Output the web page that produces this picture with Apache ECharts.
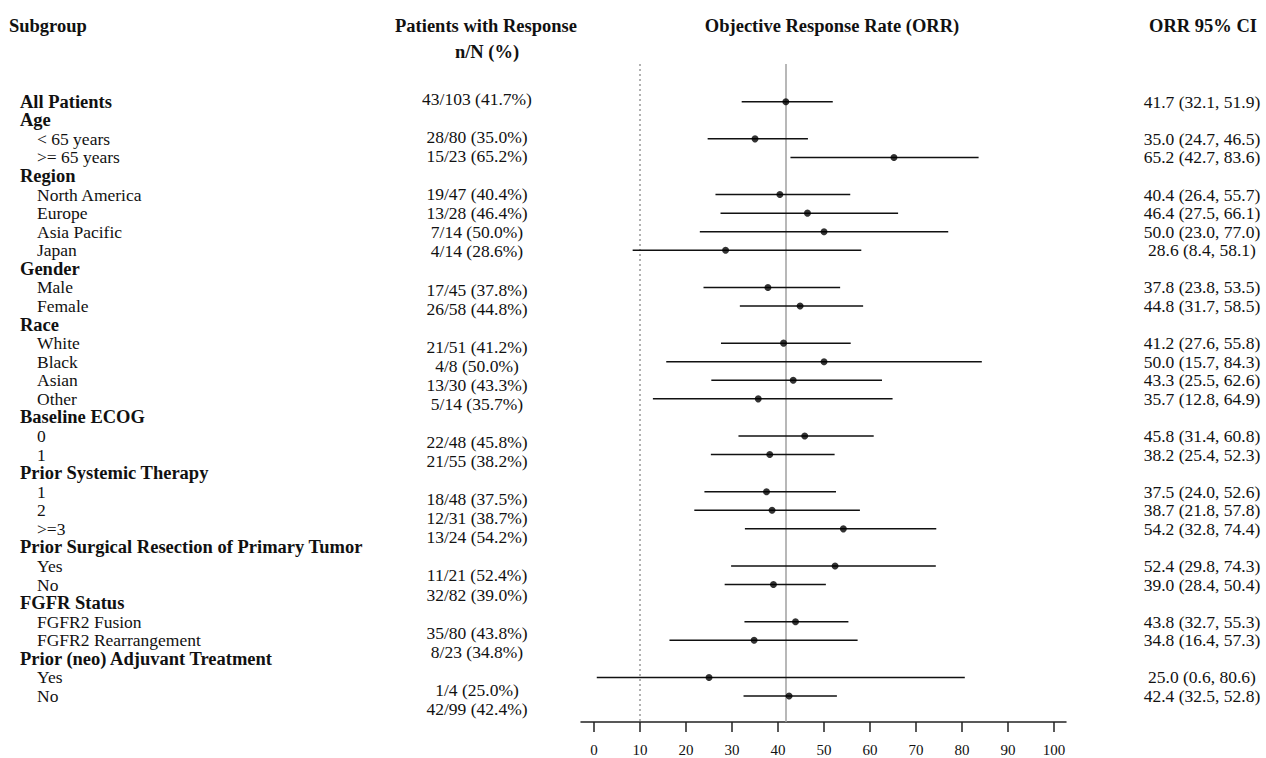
<!DOCTYPE html>
<html>
<head>
<meta charset="utf-8">
<script src="https://cdn.jsdelivr.net/npm/echarts@6/dist/echarts.min.js"></script>
<style>
html,body{margin:0;padding:0;background:#fff;}
#chart{width:1266px;height:758px;}
</style>
</head>
<body>
<div id="chart"></div>
<script>
// ---- data ----
const rows = ['All Patients','Age','< 65 years','>= 65 years','Region','North America','Europe','Asia Pacific','Japan',
  'Gender','Male','Female','Race','White','Black','Asian','Other','Baseline ECOG','0','1',
  'Prior Systemic Therapy','1','2','>=3','Prior Surgical Resection of Primary Tumor','Yes','No',
  'FGFR Status','FGFR2 Fusion','FGFR2 Rearrangement','Prior (neo) Adjuvant Treatment','Yes','No'];
const rowLevel = [0,0,1,1,0,1,1,1,1,0,1,1,0,1,1,1,1,0,1,1,0,1,1,1,0,1,1,0,1,1,0,1,1];
const responders = [43,null,28,15,null,19,13,7,4,null,17,26,null,21,4,13,5,null,22,21,null,18,12,13,null,11,32,null,35,8,null,1,42];
const totals = [103,null,80,23,null,47,28,14,14,null,45,58,null,51,8,30,14,null,48,55,null,48,31,24,null,21,82,null,80,23,null,4,99];
const orr = [41.7,null,35.0,65.2,null,40.4,46.4,50.0,28.6,null,37.8,44.8,null,41.2,50.0,43.3,35.7,null,45.8,38.2,null,37.5,38.7,54.2,null,52.4,39.0,null,43.8,34.8,null,25.0,42.4];
const ciLow = [32.1,null,24.7,42.7,null,26.4,27.5,23.0,8.4,null,23.8,31.7,null,27.6,15.7,25.5,12.8,null,31.4,25.4,null,24.0,21.8,32.8,null,29.8,28.4,null,32.7,16.4,null,0.6,32.5];
const ciHigh = [51.9,null,46.5,83.6,null,55.7,66.1,77.0,58.1,null,53.5,58.5,null,55.8,84.3,62.6,64.9,null,60.8,52.3,null,52.6,57.8,74.4,null,74.3,50.4,null,55.3,57.3,null,80.6,52.8];
const xTicks = [0,10,20,30,40,50,60,70,80,90,100];
const thresholdRate = 10;
const headers = ['Subgroup','Patients with Response','n/N (%)','Objective Response Rate (ORR)','ORR 95% CI'];

// ---- derived ----
const FONT = "'Liberation Serif','Times New Roman',serif";
const allRows = rows.map((_, i) => i);
const dataRows = allRows.filter(i => orr[i] != null);
const ciData = dataRows.map(i => [ciLow[i], ciHigh[i], i]);
const pointData = dataRows.map(i => [orr[i], i]);
const nText = i => responders[i] + '/' + totals[i] + ' (' + orr[i].toFixed(1) + '%)';
const ciText = i => orr[i].toFixed(1) + ' (' + ciLow[i].toFixed(1) + ', ' + ciHigh[i].toFixed(1) + ')';
// an empty guard label above the first row keeps ECharts' min-label logic from hiding real rows
const leftLabelValues = [-2].concat(allRows);

const hidden = {axisLine:{show:false, onZero:false}, axisTick:{show:false}, splitLine:{show:false}};
const HB = 'bold 18.5px ' + FONT;

const chart = echarts.init(document.getElementById('chart'), null, {renderer:'svg'});
chart.setOption({
  backgroundColor:'#fff',
  animation:false,
  grid:{left:581, right:200, top:64, bottom:36},
  graphic:[
    {type:'text', x:9, y:26, style:{text:headers[0], font:HB, fill:'#111', align:'left', verticalAlign:'middle'}},
    {type:'text', x:486, y:26, style:{text:headers[1], font:HB, fill:'#111', align:'center', verticalAlign:'middle'}},
    {type:'text', x:487, y:52, style:{text:headers[2], font:HB, fill:'#111', align:'center', verticalAlign:'middle'}},
    {type:'text', x:832, y:26, style:{text:headers[3], font:HB, fill:'#111', align:'center', verticalAlign:'middle'}},
    {type:'text', x:1203, y:26, style:{text:headers[4], font:HB, fill:'#111', align:'center', verticalAlign:'middle'}}
  ],
  xAxis:{
    type:'value', min:-2.83, max:102.6,
    splitLine:{show:false},
    axisLine:{show:true, onZero:false, lineStyle:{color:'#222', width:1.5}},
    axisTick:{show:true, customValues:xTicks, length:10, lineStyle:{color:'#222', width:1.5}},
    axisLabel:{customValues:xTicks, margin:20, color:'#111', fontFamily:FONT, fontSize:15}
  },
  yAxis:[
    Object.assign({
      type:'value', inverse:true, min:-2.03, max:33.4, position:'left',
      axisLabel:{
        customValues:leftLabelValues, align:'left', margin:561, showMaxLabel:true,
        hideOverlap:false, lineHeight:14,
        formatter:v => v < 0 ? '' : (rowLevel[v] === 0 ? '{b|' : '{s|') + rows[v] + '}',
        rich:{
          b:{fontFamily:FONT, fontSize:18.5, fontWeight:'bold', color:'#111', lineHeight:14},
          s:{fontFamily:FONT, fontSize:17.5, color:'#111', lineHeight:14, padding:[0,0,0,17]}
        }
      }
    }, hidden),
    Object.assign({
      type:'value', inverse:true, min:-2.03, max:33.4, position:'right',
      axisLabel:{
        customValues:dataRows, align:'center', margin:136, showMinLabel:true, showMaxLabel:true,
        hideOverlap:false, lineHeight:14,
        formatter:v => ciText(v), fontFamily:FONT, fontSize:17.5, color:'#111'
      }
    }, hidden),
    Object.assign({
      type:'value', inverse:true, min:-1.836, max:32.687, position:'left',
      axisLabel:{
        customValues:dataRows, align:'center', margin:104, showMinLabel:true, showMaxLabel:true,
        hideOverlap:false, lineHeight:14,
        formatter:v => nText(v), fontFamily:FONT, fontSize:17.5, color:'#111'
      }
    }, hidden)
  ],
  series:[
    {
      type:'custom', yAxisIndex:0, z:3,
      data:ciData,
      encode:{x:[0,1], y:2},
      renderItem:(params, api) => {
        const a = api.coord([api.value(0), api.value(2)]);
        const b = api.coord([api.value(1), api.value(2)]);
        return {type:'line', shape:{x1:a[0], y1:a[1], x2:b[0], y2:b[1]}, style:{stroke:'#111', lineWidth:1.5}};
      },
      markLine:{
        silent:true, z:1, symbol:['none','none'], label:{show:false},
        data:[
          {xAxis:thresholdRate, lineStyle:{color:'#999', type:[2,3], width:1.5}},
          {xAxis:orr[0], lineStyle:{color:'#a0a0a0', type:'solid', width:1.5}}
        ]
      }
    },
    {
      type:'scatter', yAxisIndex:0, z:4,
      data:pointData, symbol:'circle', symbolSize:7,
      itemStyle:{color:'#000'}
    }
  ]
});
</script>
</body>
</html>
